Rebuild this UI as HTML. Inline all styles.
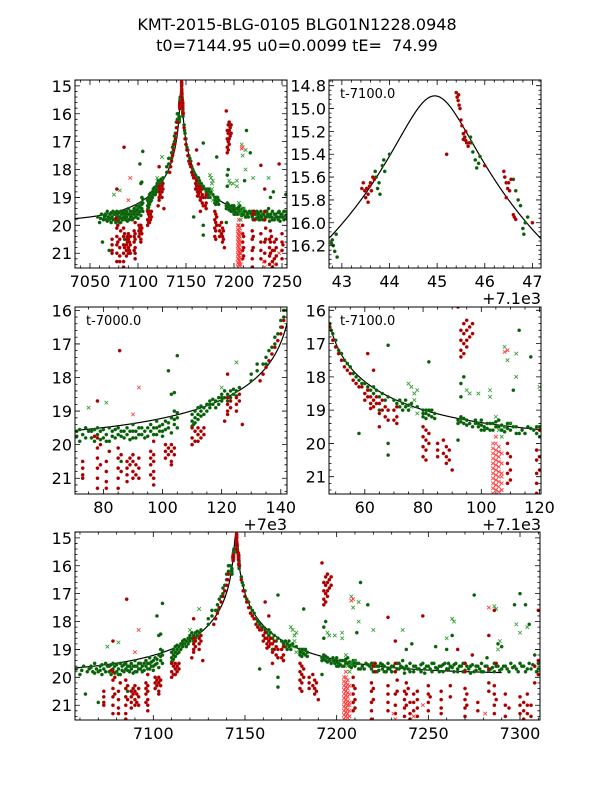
<!DOCTYPE html>
<html><head><meta charset="utf-8"><style>
html,body{margin:0;padding:0;background:#fff;}
svg{display:block;font-family:"DejaVu Sans","Liberation Sans",sans-serif;}
</style></head><body>
<svg id="fig" width="600" height="800" viewBox="0 0 600 800" xmlns="http://www.w3.org/2000/svg">
<rect width="600" height="800" fill="#fff"/>
<text x="297" y="30" font-size="16" text-anchor="middle">KMT-2015-BLG-0105 BLG01N1228.0948</text>
<text x="297" y="51" font-size="16" text-anchor="middle" xml:space="preserve" style="white-space:pre">t0=7144.95 u0=0.0099 tE=  74.99</text>
</svg>
<script>
// model parameters (from title)
const modelParams = [7144.95, 0.0099, 74.99];
const modelBase = [19.9];
const modelRange = [7030, 7290];

// green dots [t, mag]
const greenDots = [[7058,19.7],[7060,19.9],[7062,19.6],[7063,20.6],[7065,19.7],[7066,19.6],[7067,19.8],[7068,19.5],[7069,19.7],[7070,20.9],[7070,19.8],[7071,19.6],[7072,19.9],[7073,19.7],[7074,19.5],[7075,19.6],[7076,19.8],[7077,19.9],[7078,19.7],[7078,19.5],[7079,19.6],[7080,19.8],[7081,19.7],[7082,19.5],[7082,19.9],[7083,19.6],[7084,19.8],[7085,19.5],[7085,19.7],[7086,20.5],[7086,19.6],[7087,19.8],[7088,19.5],[7088,19.7],[7089,19.6],[7090,19.4],[7090,19.8],[7091,19.6],[7092,19.7],[7093,19.5],[7094,19.6],[7094,19.8],[7095,19.5],[7096,19.6],[7096,19.4],[7097,19.7],[7098,19.5],[7098,19.3],[7099,19.6],[7100,19.4],[7100,19.6],[7101,19.3],[7102,19.5],[7102,17.8],[7103,19.2],[7103,18.5],[7104,19.4],[7104,18.45],[7104,19.0],[7105,19.2],[7105,17.35],[7105,19.5],
[7061,19.75],[7064,19.8],[7066,19.65],[7068,19.85],[7071,19.75],[7072,19.55],[7074,19.8],[7076,19.6],[7077,19.55],[7079,19.85],[7080,19.55],[7081,19.9],[7083,19.75],[7084,19.55],[7086,19.75],[7087,19.6],[7089,19.85],[7090,19.6],[7091,19.8],[7092,19.5],[7093,19.7],[7095,19.75],[7097,19.5],[7098,19.7],[7099,19.45],[7100,19.75],[7101,19.55],[7102,19.35],[7103,19.65],[7104,19.25],[7105,19.05],
[7110,19.3],[7110,19.1],[7110.5,19.4],[7111,19.2],[7111,19.0],[7112,19.1],[7112,18.9],[7113,19.0],[7114,18.9],[7114,19.1],[7115,18.8],[7116,18.9],[7116,18.7],[7117,18.8],[7118,18.7],[7118,18.9],[7119,18.6],[7120,18.7],[7120,18.5],[7121,18.6],[7122,18.5],[7123,18.6],[7123,18.4],[7124,18.5],[7125,18.4],[7126,18.3],
[7110,19.45],[7111,19.35],[7112,19.25],[7113,19.15],[7113,18.85],[7115,19.0],[7116,18.8],[7117,18.65],[7119,18.8],[7120,18.6],[7121,18.4],[7122,18.7],[7124,18.35],[7125,18.55],
[7130,18.1],[7130,17.9],[7132,17.8],[7132,17.6],[7134,17.6],[7135,17.4],[7135,17.6],[7136,17.2],[7137,17.1],[7138,17.0],[7138,16.8],[7139,16.7],[7140,16.5],[7140,16.3],[7141,16.2],[7141,16.0],[7142,16.0],
[7142.8,16.15],[7142.82,16.2],[7142.85,16.25],[7142.88,16.1],[7142.9,16.3],[7142.78,16.18],[7143.7,15.55],[7143.72,15.6],[7143.75,15.7],[7143.78,15.65],[7143.8,15.75],[7143.85,15.5],[7143.88,15.45],[7143.9,15.55],[7144,15.4],[7145.7,15.25],[7145.72,15.3],[7145.75,15.38],[7145.8,15.45],[7145.83,15.52],[7145.87,15.48],[7145.9,15.42],[7146.6,15.62],[7146.65,15.72],[7146.7,15.8],[7146.75,15.85],[7146.8,16.05],[7146.85,16.0],[7146.9,15.95],[7146.82,16.1],
[7148,16.4],[7148.5,16.6],[7149,16.7],[7150,16.9],[7150,17.1],[7151,17.2],[7152,17.3],[7153,17.5],[7154,17.6],[7155,17.7],[7156,17.9],[7157,18.0],[7158,18.1],[7158,19.7],[7159,18.2],[7160,18.2],[7161,18.3],[7162,18.4],[7163,18.3],[7163,18.5],[7164,18.4],[7165,18.6],[7165,19.0],[7166,18.5],[7167,18.7],[7168,18.6],[7168,17.05],[7168,20.35],[7168,20.0],[7170,18.7],[7171,18.8],[7172,18.9],[7173,18.8],[7174,18.9],[7175,19.0],[7176,18.8],[7178,18.9],[7180,19.0],[7180,19.2],[7181,19.1],[7182,19.0],[7183,19.2],[7184,19.1],[7182,17.55],
[7172,18.7],[7173,19.0],[7174,18.7],[7175,18.85],[7180,19.1],[7181,19.0],[7181,19.25],[7182,19.15],[7183,19.0],[7184,19.25],
[7192,19.3],[7192,19.9],[7193,19.2],[7193,18.2],[7193,18.6],[7194,19.4],[7194,18.0],[7195,19.3],[7196,19.4],[7198,19.4],[7199,19.5],[7200,19.3],[7200,19.6],[7201,19.5],[7202,19.4],[7203,19.6],[7204,19.4],[7205,19.5],[7206,19.3],[7207,19.6],[7208,19.5],[7209,19.4],[7210,19.6],[7211,18.4],[7212,19.5],[7213,16.6],[7213,19.7],[7214,19.6],[7216,19.5],[7217,17.4],[7218,19.6],[7219,19.7],[7220,19.5],[7221,19.6],[7222,19.8],[7223,19.6],[7224,19.5],[7225,19.7],[7226,19.6],[7227,19.8],[7228,19.5],[7229,19.7],[7230,19.6],[7232,19.8],[7233,19.5],[7234,19.7],[7235,19.6],[7236,19.4],[7237,19.7],[7238,19.0],[7238,19.6],[7240,19.8],[7241,18.8],[7242,19.6],[7244,19.7],[7246,19.8],[7247,19.5],[7248,19.7],[7250,19.6],[7252,19.8],[7253,19.5],[7254,18.9],[7255,19.7],[7256,19.6],[7258,19.8],[7259,19.5],[7260,19.0],[7261,19.7],[7262,19.6],[7263,18.5],[7264,19.8],[7265,19.5],[7266,19.7],[7268,19.6],[7269,19.8],[7270,19.5],[7272,19.7],[7273,19.6],[7275,17.05],[7275,19.8],[7276,19.6],[7278,19.7],[7279,19.5],[7280,19.8],[7282,19.3],[7282,19.6],[7284,19.7],[7286,19.5],[7288,18.8],[7288,19.6],[7290,18.9],[7290,19.7],[7292,19.6],[7294,19.8],[7295,19.5],[7297,17.4],[7297,19.6],[7298,19.7],[7300,17.0],[7300,19.5],[7302,19.6],[7303,17.4],[7303,19.8],[7305,18.1],[7305,19.5],[7306,19.7],[7308,19.2],[7308,19.6],[7310,19.5],[7310,19.7],
[7192,19.4],[7193,19.35],[7194,19.25],[7195,19.45],[7197,19.5],[7198,19.3],[7199,19.4],[7200,19.45],[7201,19.6],[7202,19.55],[7203,19.4],[7204,19.6],[7205,19.35],[7206,19.5],[7207,19.45],[7208,19.65],[7209,19.55],[7210,19.4],[7211,19.5],[7212,19.7],
[7215,19.7],[7217,19.55],[7219,19.5],[7220,19.8],[7222,19.6],[7223,19.75],[7225,19.55],[7226,19.8],[7228,19.7],[7230,19.8],[7231,19.6],[7233,19.7],[7234,19.5],[7236,19.65],[7237,19.85],[7239,19.7],[7240,19.5],[7242,19.8],[7243,19.6],[7245,19.7],[7246,19.55],[7248,19.85],[7249,19.6],[7251,19.7],[7252,19.5],[7254,19.65],[7256,19.8],[7257,19.6],[7258,19.55],[7260,19.7],[7261,19.5],[7263,19.65],[7264,19.55],[7266,19.8],[7267,19.6],[7269,19.5],[7270,19.75],[7271,19.6],[7273,19.85],[7274,19.55],[7276,19.75],[7277,19.6],[7279,19.8],[7281,19.6],[7283,19.75],[7285,19.65],[7286,19.8],[7287,19.6],[7289,19.75],[7291,19.6],[7293,19.7],[7296,19.65],[7299,19.8],[7301,19.6],[7304,19.7],[7307,19.55],[7309,19.8]];

// green crosses
const greenCrosses = [[7075,18.9],[7081,18.75],[7125,17.55],[7120,18.3],[7176,18.3],[7177,18.5],[7178,18.4],[7177,18.7],[7176,18.9],[7178,19.1],[7175,18.2],[7195,18.4],[7196,18.5],[7199,18.5],[7203,18.4],[7203,18.6],[7205,19.2],[7206,19.6],[7207,19.8],[7208,19.5],[7208,17.1],[7209,17.5],[7210,19.4],[7212,17.3],[7212,18.0],[7220,18.3],[7236,18.3],[7260,18.6],[7263,17.9],[7264,18.0],[7286,17.45],[7287,17.55],[7288,19.0],[7289,18.7],[7298,18.1],[7300,18.4],[7304,18.2]];

// red dots
const redDots = [[7073,20.5],[7073,20.7],[7073,20.9],[7073,21.0],[7078,19.8],[7078,20.1],[7078,20.4],[7078,20.7],[7078,21.0],[7078,21.3],[7079,20.0],[7079,20.6],[7081,20.5],[7081,20.8],[7081,21.1],[7081,21.3],[7082,20.2],[7085,20.1],[7085,20.4],[7085,20.7],[7085,21.0],[7085,21.3],[7085,21.5],[7086,20.3],[7086,20.8],[7088,20.5],[7088,20.7],[7088,20.9],[7088,21.1],[7089,20.4],[7089,20.6],[7090,20.3],[7090,20.5],[7090,20.8],[7090,21.0],[7091,20.6],[7091,20.9],[7092,20.4],[7092,20.7],[7092,21.0],[7096,20.2],[7096,20.4],[7096,20.6],[7096,20.9],[7097,19.9],[7097,20.3],[7097,20.5],[7097,20.8],[7097,21.0],[7097,21.2],[7101,20.0],[7101,20.2],[7101,20.4],[7102,20.1],[7102,20.3],[7103,20.0],[7103,20.2],[7103,20.5],[7103,20.6],[7104,20.1],[7104,20.3],[7085.5,17.2],[7078,18.7],[7077,19.75],
[7110,19.5],[7110,19.8],[7110,20.0],[7111,19.6],[7111,19.9],[7112,19.5],[7112,19.7],[7112,19.9],[7113,19.6],[7113,19.8],[7114,19.5],[7114,19.7],[7122,18.6],[7122,18.8],[7122,19.0],[7122,19.1],[7123,18.7],[7123,18.9],[7125,18.6],[7125,18.8],[7125,19.0],[7126,18.5],[7126,18.7],[7127,19.4],[7122,17.9],[7121,19.3],
[7133,18.1],[7134,17.9],[7135,17.7],[7136,17.5],[7137,17.3],[7138,17.1],[7139,16.9],[7140,16.7],[7140.5,16.5],[7141,16.3],
[7143.45,15.65],[7143.48,15.72],[7143.5,15.78],[7143.52,15.7],[7143.55,15.75],[7143.58,15.68],[7143.6,15.65],[7143.62,15.72],[7143.65,15.6],[7143.55,15.82],[7143.68,15.62],[7143.42,15.7],
[7145.4,14.86],[7145.42,14.9],[7145.44,14.93],[7145.46,14.97],[7145.48,15.0],[7145.45,14.88],[7145.5,15.1],[7145.52,15.15],[7145.55,15.22],[7145.58,15.25],[7145.6,15.28],[7145.62,15.3],[7145.65,15.33],[7145.6,15.2],[7145.68,15.3],[7145.55,15.27],
[7146.4,15.55],[7146.42,15.6],[7146.45,15.65],[7146.48,15.7],[7146.5,15.65],[7146.52,15.72],[7146.55,15.62],[7146.45,15.78],[7146.6,15.93],[7146.62,15.95],[7146.65,15.97],[7145.2,15.4],[7146,15.5],
[7147,16.0],[7148,16.5],[7149,16.9],[7150,17.1],[7151,17.3],[7152,17.5],[7153,17.7],[7154,17.8],[7155,17.9],[7156,18.1],[7157,18.2],[7159,18.3],[7160,18.5],[7161,18.4],[7162,18.6],[7162,18.8],[7163,18.9],[7163,18.7],[7164,18.6],[7165,18.8],[7166,19.0],[7167,18.9],[7167,19.2],[7168,19.3],[7170,19.0],[7171,19.2],[7171,19.4],[7161,17.3],[7163,17.8],[7165,19.5],
[7158,18.3],[7160,18.7],[7161,18.6],[7162,18.95],[7164,18.8],[7165,19.1],[7166,18.7],[7168,19.0],[7170,19.3],[7171,18.9],
[7180,19.5],[7180,19.8],[7180,20.1],[7180,20.4],[7181,19.6],[7181,19.9],[7181,20.2],[7181,20.5],[7182,19.7],[7182,20.0],[7185,20.0],[7185,20.2],[7185,20.4],[7187,19.9],[7187,20.3],[7188,20.1],[7188,20.4],[7188,20.6],[7189,20.2],[7189,20.5],[7190,20.8],
[7193,16.6],[7193,16.9],[7193,17.2],[7194,16.4],[7194,16.7],[7194,17.0],[7194,17.3],[7195,16.3],[7195,16.6],[7195,16.9],[7195,17.1],[7196,16.5],[7196,16.8],[7197,16.4],[7197,16.7],[7192,15.9],[7193,17.4],
[7209,20.0],[7209,20.3],[7209,20.6],[7209,20.9],[7209,21.2],[7210,20.4],[7210,20.8],[7210,21.1],[7219,20.2],[7219,20.5],[7219,20.9],[7219,21.2],[7219,21.5],[7220,19.6],[7220,20.4],[7220,20.8],[7221,19.5],[7221,19.8],[7228,20.3],[7228,20.6],[7228,20.9],[7228,21.2],[7232,19.5],[7232,19.8],[7232,20.6],[7232,21.0],[7232,21.3],[7233,20.1],[7233,20.5],[7237,20.5],[7237,20.8],[7237,21.1],[7237,21.4],[7238,20.2],[7238,20.6],[7238,21.0],[7239,20.4],[7240,20.9],[7240,21.3],[7240,21.5],[7242,20.6],[7242,20.9],[7242,21.2],[7244,20.5],[7244,20.8],[7244,21.1],[7244,21.4],[7250,20.3],[7250,20.6],[7250,20.9],[7250,21.2],[7251,20.7],[7257,20.5],[7257,20.8],[7257,21.1],[7257,21.3],[7262,20.3],[7262,20.7],[7270,19.5],[7270,19.8],[7270,20.4],[7270,20.8],[7270,21.1],[7270,21.4],[7271,20.6],[7271,21.0],[7277,20.9],[7277,21.2],[7283,19.7],[7283,20.2],[7283,20.5],[7286,20.3],[7286,20.6],[7286,21.0],[7286,21.3],[7287,19.5],[7287,20.8],[7292,20.6],[7292,21.0],[7292,21.4],[7294,21.1],[7300,20.7],[7300,21.0],[7300,21.3],[7302,20.9],[7302,21.2],[7302,21.5],[7304,20.6],[7304,21.0],[7304,21.3],[7306,21.0],[7306,21.4],[7308,19.6],[7308,20.2],[7310,19.4],[7310,19.9],[7228,17.85],[7247,17.8],[7266,19.0],[7274,19.2],[7286,17.6],[7310,17.6],[7283,18.5],[7232,18.7]];

// red crosses
const redCrosses = [[7204,20.0],[7204,20.3],[7204,20.6],[7204,20.9],[7204,21.2],[7204,21.5],[7205,19.8],[7205,20.2],[7205,20.5],[7205,20.8],[7205,21.1],[7205,21.4],[7206,20.1],[7206,20.4],[7206,20.7],[7206,21.0],[7206,21.3],[7207,20.3],[7207,20.9],[7207,21.2],[7209,17.2],[7092,18.3],[7090,19.1],[7231,21.3],[7232,21.5],[7242,21.4],[7281,21.3],[7247,21.0],[7283,17.5],[7208,17.25],
[7204,20.15],[7204,20.45],[7204,20.75],[7204,21.05],[7204,21.35],[7205,20.0],[7205,20.35],[7205,20.65],[7205,20.95],[7205,21.25],[7206,20.25],[7206,20.55],[7206,20.85],[7206,21.15],[7206,21.45],[7207,20.6],[7207,21.0],[7207,21.4]];

const NS = "http://www.w3.org/2000/svg";
const svg = document.getElementById('fig');
function el(tag, attrs, parent) {
  const e = document.createElementNS(NS, tag);
  for (const k in attrs) e.setAttribute(k, attrs[k]);
  (parent || svg).appendChild(e);
  return e;
}
function ampl(t) {
  const u = Math.sqrt(modelParams[1] * modelParams[1] + Math.pow((t - modelParams[0]) / modelParams[2], 2));
  return (u * u + 2) / (u * Math.sqrt(u * u + 4));
}
function mag(t) { return modelBase[0] - 2.5 * Math.log10(ampl(t)); }

const panels = [
  {id:'top-left', px:[75,287], py:[80,268], xd:[7034.4,7255.2], yd:[14.79,21.53], xt:[7050,7250,50], xm:10, yt:[15,21,1], ym:0.2, xoff:0, ydec:0},
  {id:'top-right', px:[329,541], py:[80,268], xd:[7142.73,7147.18], yd:[14.75,16.396], xt:[7143,7147,1], xm:0.2, yt:[14.8,16.2,0.2], ym:0.04, xoff:7100, ydec:1, note:'t-7100.0', offtxt:'+7.1e3'},
  {id:'middle-left', px:[75,287], py:[307,494], xd:[7070.4,7142.1], yd:[15.9,21.47], xt:[7080,7140,20], xm:5, yt:[16,21,1], ym:0.2, xoff:7000, ydec:0, note:'t-7000.0', offtxt:'+7e3'},
  {id:'middle-right', px:[329,541], py:[307,494], xd:[7147.7,7220.5], yd:[15.9,21.52], xt:[7160,7220,20], xm:5, yt:[16,21,1], ym:0.2, xoff:7100, ydec:0, note:'t-7100.0', offtxt:'+7.1e3'},
  {id:'bottom', px:[75,540], py:[532,720], xd:[7057.3,7310.9], yd:[14.79,21.53], xt:[7100,7300,50], xm:10, yt:[15,21,1], ym:0.2, xoff:0, ydec:0}
];

panels.forEach(function(p, idx) {
  const g = el('g', {});
  
  
  const sx = function(t) { return p.px[0] + (t - p.xd[0]) / (p.xd[1] - p.xd[0]) * (p.px[1] - p.px[0]); };
  const sy = function(m) { return p.py[0] + (m - p.yd[0]) / (p.yd[1] - p.yd[0]) * (p.py[1] - p.py[0]); };
  const cid = 'clip' + idx;
  const cp = el('clipPath', {id: cid}, g);
  el('rect', {x:p.px[0], y:p.py[0], width:p.px[1]-p.px[0], height:p.py[1]-p.py[0]}, cp);
  const plot = el('g', {'clip-path':'url(#' + cid + ')'}, g);
  
  
  let d = '';
  const steps = 900;
  for (let i = 0; i <= steps; i++) {
    const t = Math.max(modelRange[0], p.xd[0]) + (Math.min(modelRange[1], p.xd[1]) - Math.max(modelRange[0], p.xd[0])) * i / steps;
    d += (i ? 'L' : 'M') + sx(t).toFixed(2) + ',' + sy(mag(t)).toFixed(2);
  }
  const ml = el('path', {d:d, fill:'none', stroke:'#000', 'stroke-width':1.2}, plot);
  
  
  function dots(arr, fill, stroke, name) {
    const sg = el('g', {}, plot);
    
    
    arr.forEach(function(pt) {
      if (pt[0] < p.xd[0] - 1 || pt[0] > p.xd[1] + 1) return;
      const c = el('circle', {cx:sx(pt[0]).toFixed(2), cy:sy(pt[1]).toFixed(2), r:1.6, fill:fill, stroke:stroke, 'stroke-width':0.5}, sg);
      
      
    });
  }
  function crosses(arr, color, name) {
    const sg = el('g', {}, plot);
    
    
    arr.forEach(function(pt) {
      if (pt[0] < p.xd[0] - 1 || pt[0] > p.xd[1] + 1) return;
      const x = sx(pt[0]), y = sy(pt[1]);
      const c = el('path', {d:'M'+(x-1.8)+','+(y-1.8)+'L'+(x+1.8)+','+(y+1.8)+'M'+(x-1.8)+','+(y+1.8)+'L'+(x+1.8)+','+(y-1.8), stroke:color, 'stroke-width':0.8, fill:'none'}, sg);
      
      
    });
  }
  dots(greenDots, '#0a5c0a', '#1a7a1a', 'green-dots-series');
  crosses(greenCrosses, '#2a9a2a', 'green-crosses-series');
  dots(redDots, '#a00000', '#cc1010', 'red-dots-series');
  crosses(redCrosses, '#ff3030', 'red-crosses-series');
  const fr = el('rect', {x:p.px[0], y:p.py[0], width:p.px[1]-p.px[0], height:p.py[1]-p.py[0], fill:'none', stroke:'#000', 'stroke-width':1}, g);
  
  
  let td = '';
  const eps = 1e-6;
  for (let v = Math.ceil(p.xd[0] / p.xm) * p.xm; v <= p.xd[1]; v += p.xm) {
    const x = sx(v);
    const major = Math.abs(((v - p.xt[0]) / p.xt[2]) - Math.round((v - p.xt[0]) / p.xt[2])) < 1e-4;
    const L = major ? 5 : 2.5;
    td += 'M'+x+','+p.py[1]+'v'+(-L)+'M'+x+','+p.py[0]+'v'+L;
  }
  for (let v = Math.ceil(p.yd[0] / p.ym - eps) * p.ym; v <= p.yd[1]; v += p.ym) {
    const y = sy(v);
    const major = Math.abs(((v - p.yt[0]) / p.yt[2]) - Math.round((v - p.yt[0]) / p.yt[2])) < 1e-4;
    const L = major ? 5 : 2.5;
    td += 'M'+p.px[0]+','+y+'h'+L+'M'+p.px[1]+','+y+'h'+(-L);
  }
  const tk = el('path', {d:td, stroke:'#000', 'stroke-width':0.8, fill:'none'}, g);
  
  
  for (let v = p.xt[0]; v <= p.xt[1] + eps; v += p.xt[2]) {
    const t = el('text', {x:sx(v), y:p.py[1] + 19, 'font-size':16, 'text-anchor':'middle'}, g);
    
    
    t.textContent = String(Math.round(v - p.xoff));
  }
  for (let v = p.yt[0]; v <= p.yt[1] + eps; v += p.yt[2]) {
    const t = el('text', {x:p.px[0] - 3, y:sy(v) + 6, 'font-size':16, 'text-anchor':'end'}, g);
    
    
    t.textContent = v.toFixed(p.ydec);
  }
  if (p.note) {
    const t = el('text', {x:p.px[0] + 11, y:p.py[0] + 18, 'font-size':13}, g);
    
    
    t.textContent = p.note;
  }
  if (p.offtxt) {
    const t = el('text', {x:p.px[1], y:p.py[1] + 36, 'font-size':16, 'text-anchor':'end'}, g);
    
    
    t.textContent = p.offtxt;
  }
});
</script>
</body></html>
